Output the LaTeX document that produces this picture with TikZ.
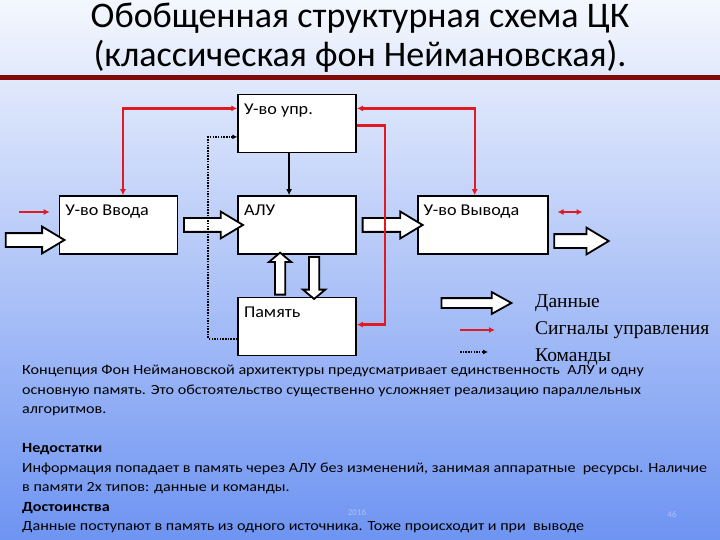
\documentclass[tikz,border=0pt]{standalone}
\usepackage{fontspec}
\setmainfont{Carlito}
\newfontfamily\legendfont{Liberation Serif}
\newfontfamily\bodyfont{Carlito}[FakeStretch=1.15]
\newfontfamily\unitfont{Carlito}[FakeStretch=1.1]
\usetikzlibrary{arrows.meta,positioning,shapes.arrows,calc}
\definecolor{ctrlred}{RGB}{225,25,35}
\definecolor{barred}{RGB}{128,10,10}
\definecolor{bgtop}{RGB}{244,247,253}
\definecolor{bgbottom}{RGB}{110,148,242}
\tikzset{
  unit/.style={draw, line width=1.6pt, fill=white, minimum width=118pt, minimum height=58pt, inner sep=0pt},
  unitlabel/.style={anchor=north west, inner sep=0pt, xshift=6.5pt, yshift=-10pt, font=\unitfont\fontsize{16.5}{19}\selectfont},
  dataarrow/.style={single arrow, draw, line width=1.8pt, fill=white, inner sep=0pt, text height=12pt, text depth=0pt,
    single arrow head extend=6.5pt, single arrow head indent=0pt, single arrow tip angle=62},
  smallarrow/.style={text height=8.5pt, single arrow head extend=6pt, single arrow tip angle=100},
  legarrow/.style={text height=8pt, single arrow head extend=6pt, single arrow tip angle=58},
  ctrltip/.tip={Latex[length=6pt,width=6pt]},
  ctrl/.style={draw=ctrlred, line width=2.4pt},
  order/.style={-{Latex[length=6pt,width=6pt]}, line width=2pt},
  cmd/.style={-{Latex[length=5pt,width=5pt]}, line width=2pt, dash pattern=on 1.5pt off 1.2pt},
  legtext/.style={anchor=west, inner sep=0pt, font=\legendfont\fontsize{19.5}{22}\selectfont},
  bodytext/.style={anchor=north west, inner sep=0pt, align=left, font=\bodyfont\fontsize{14}{19.5}\selectfont}
}
% hollow data arrow between two points
\newcommand\dataflow[3][]{%
  \path let \p1=(#2), \p2=(#3), \n1={veclen(\x2-\x1,\y2-\y1)}, \n2={atan2(\y2-\y1,\x2-\x1)} in
    node[dataarrow, #1, minimum height=\n1, rotate=\n2] at ($(#2)!0.5!(#3)$) {};}

\begin{document}
\begin{tikzpicture}[x=1pt, y=-1pt]
  \shade[top color=bgtop, bottom color=bgbottom] (0,0) rectangle (720,540);
  \useasboundingbox (0,0) rectangle (720,540);
  % title
  \node[align=center, font=\fontsize{36}{39}\selectfont] (title) at (360,38)
    {Обобщенная структурная схема ЦК\\(классическая фон Неймановская).};
  \draw[barred, line width=5pt] (0,77.5) -- (720,77.5);
  % units
  \node[unit, label={[unitlabel]north west:У-во Ввода}] (inp) at (118.5,225) {};
  \node[unit, right=59pt of inp, label={[unitlabel]north west:АЛУ}] (alu) {};
  \node[unit, above=42pt of alu, label={[unitlabel]north west:У-во упр.}] (upr) {};
  \node[unit, below=42pt of alu, label={[unitlabel]north west:Память}] (mem) {};
  \node[unit, right=60pt of alu, minimum width=130pt, label={[unitlabel]north west:У-во Вывода}] (out) {};
  \coordinate (src) at (0,240);
  \coordinate (sink) at (603,241);
  % data
  \dataflow{src}{src -| inp.west}
  \dataflow{inp.east}{alu.west}
  \dataflow{alu.east}{out.west}
  \dataflow{sink -| out.east}{sink}
  \dataflow[smallarrow]{[xshift=-17pt]mem.north}{[xshift=-17pt]alu.south}
  \dataflow[smallarrow]{[xshift=17pt]alu.south}{[xshift=17pt]mem.north}
  % control signals
  \draw[ctrl, ctrltip-ctrltip] ([xshift=4.5pt]inp.north) |- ([yshift=15pt]upr.west);
  \draw[ctrl, ctrltip-ctrltip] ([xshift=-8pt]out.north) |- ([yshift=15pt]upr.east);
  \draw[ctrl, -ctrltip] ([yshift=-2pt]upr.east) -- ++(28pt,0) |- ([yshift=2pt]mem.east);
  \draw[ctrl, -ctrltip] ([xshift=-40pt,yshift=13pt]inp.west) -- ([xshift=-9pt,yshift=13pt]inp.west);
  \draw[ctrl, ctrltip-ctrltip] ([xshift=9pt,yshift=13pt]out.east) -- ([xshift=34pt,yshift=13pt]out.east);
  % instructions
  \draw[order] ([xshift=-8pt]upr.south) -- ([xshift=-8pt]alu.north);
  \draw[cmd] ([yshift=-12pt]mem.west) -- ++(-29pt,0) |- ([yshift=-13.5pt]upr.west);
  % legend
  \node[legtext] (lgdata) at (535,303) {Данные};
  \node[legtext] (lgctrl) at (535,330) {Сигналы управления};
  \node[legtext] (lgcmd) at (535,357) {Команды};
  \dataflow[legarrow]{[xshift=-98pt]lgdata.west}{[xshift=-28pt]lgdata.west}
  \draw[ctrl, -ctrltip] ([xshift=-75pt]lgctrl.west) -- ([xshift=-40pt]lgctrl.west);
  \draw[cmd] ([xshift=-75pt,yshift=5pt]lgcmd.west) -- ([xshift=-47pt,yshift=5pt]lgcmd.west);
  % text
  \node[bodytext] (body) at (22,365) {Концепция Фон Неймановской архитектуры предусматривает единственность\ \ АЛУ и одну\\
    основную память. Это обстоятельство существенно усложняет реализацию параллельных\\
    алгоритмов.\\
    \mbox{}\\
    \textbf{Недостатки}\\
    Информация попадает в память через АЛУ без изменений, занимая аппаратные\ \ ресурсы. Наличие\\
    в памяти 2х типов: данные и команды.\\
    \textbf{Достоинства}\\
    Данные поступают в память из одного источника. Тоже происходит и при\ \ выводе};
  \node[font=\fontsize{9}{10}\selectfont, text=bgtop!45!bgbottom] (year) at (357,512) {2016};
  \node[font=\fontsize{9}{10}\selectfont, text=bgtop!45!bgbottom] (page) at (672,514) {46};
\end{tikzpicture}
\end{document}
